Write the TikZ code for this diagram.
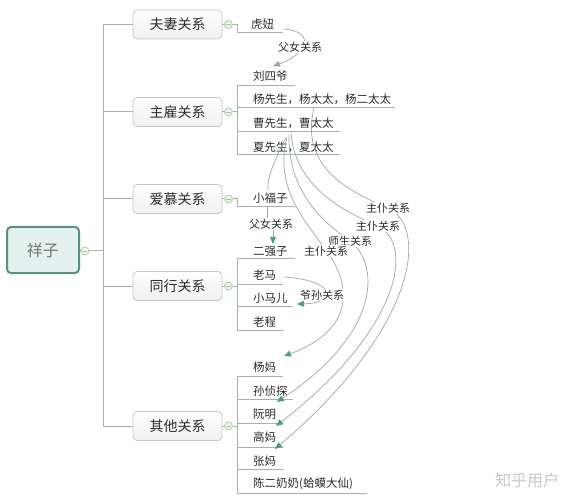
\documentclass[tikz,border=0pt]{standalone}
\usepackage{fontspec}
\setmainfont{Noto Sans CJK SC}
\usetikzlibrary{arrows.meta}
\definecolor{treec}{HTML}{A3B3AD}
\definecolor{boxc}{HTML}{C3C8C6}
\definecolor{rootf}{HTML}{E3F2EE}
\definecolor{rootd}{HTML}{5D8F80}
\definecolor{foldc}{HTML}{A5C9A0}
\definecolor{foldf}{HTML}{EEF6EC}
\definecolor{relc}{HTML}{9CA8A4}
\definecolor{arrowc}{HTML}{4F9C86}
\definecolor{txt}{HTML}{2B2B2B}
\tikzset{
  branch/.style={draw=boxc, top color=white, bottom color=black!6, rounded corners=4pt, minimum width=89pt, minimum height=29pt, inner sep=0pt, font=\fontsize{14}{16}\selectfont, text=txt, line width=0.8pt},
  rootbox/.style={draw=rootd, fill=rootf, rounded corners=4pt, minimum width=72pt, minimum height=46pt, inner sep=0pt, line width=2pt, font=\fontsize{16}{18}\selectfont, text=black!55},
  fold/.style={circle, draw=foldc, fill=foldf, minimum size=8pt, inner sep=0pt, line width=0.7pt,
    path picture={\draw[foldc, line width=0.6pt] ([xshift=-2.3pt]path picture bounding box.center) -- ([xshift=2.3pt]path picture bounding box.center);}},
  leaf/.style={anchor=west, inner sep=0pt, font=\fontsize{11.5}{13}\selectfont, text=txt},
  rlabel/.style={fill=white, inner sep=1pt, font=\fontsize{11}{13}\selectfont, text=txt},
  tree/.style={draw=treec, line width=1pt},
  rel/.style={draw=relc, line width=0.7pt},
  tealtip/.style={-{Triangle[length=7pt,width=6pt,color=arrowc]}},
  graytip/.style={-{Triangle[length=7pt,width=6pt,color=relc]}}
}
\begin{document}
\begin{tikzpicture}[x=1pt,y=-1pt]
\useasboundingbox[fill=white] (0,0) rectangle (579,500);

% root and branches
\node[rootbox] (root) at (43,250) {祥子};
\node[fold] (c0) at (85,251) {};
\coordinate (trunk) at (103,0);
\node[branch] (b1) at (177.5,24.5) {夫妻关系};
\node[branch] (b2) at (177.5,112) {主雇关系};
\node[branch] (b3) at (177.5,199) {爱慕关系};
\node[branch] (b4) at (177.5,286) {同行关系};
\node[branch] (b5) at (177.5,426) {其他关系};
\foreach \i in {1,...,5}{
  \node[fold] (c\i) at ([xshift=6pt]b\i.east) {};
}

\draw[tree] (root.east) -- (c0.west);
\draw[tree] (c0.east) -- (c0.east -| trunk);
\draw[tree] (b1.west -| trunk) -- (b5.west -| trunk);
\foreach \i in {1,...,5}{
  \draw[tree] (b\i.west -| trunk) -- (b\i.west);
  \draw[tree] (b\i.east) -- (c\i.west);
}

% leaves
\node[leaf] (hn) at (251,24) {虎妞};
\node[leaf] (lsy) at (253,76) {刘四爷};
\node[leaf] (yang) at (253,99.5) {杨先生，杨太太，杨二太太};
\node[leaf] (cao) at (253,123) {曹先生，曹太太};
\node[leaf] (xia) at (253,147) {夏先生，夏太太};
\node[leaf] (xfz) at (253,198) {小福子};
\node[leaf] (eqz) at (253,251) {二强子};
\node[leaf] (lm) at (253,275) {老马};
\node[leaf] (xme) at (253,298) {小马儿};
\node[leaf] (lc) at (253,322) {老程};
\node[leaf] (ym) at (253,367) {杨妈};
\node[leaf] (szt) at (253,391) {孙侦探};
\node[leaf] (rm) at (253,414) {阮明};
\node[leaf] (gm) at (253,437.5) {高妈};
\node[leaf] (zm) at (253,461) {张妈};
\node[leaf] (cen) at (253,484) {陈二奶奶(蛤蟆大仙)};

% sub-brackets
\coordinate (br) at (237,0);
\draw[tree] (c1.east) -- (c1.east -| br) -- (237,33) -- (283,33);
\draw[tree] (c2.east) -- (c2.east -| br);
\draw[tree] (237,86) -- (237,155);
\draw[tree] (237,86) -- (295,86);
\draw[tree] (237,108) -- (395,108);
\draw[tree] (237,132) -- (340,132);
\draw[tree] (237,155) -- (340,155);
\draw[tree] (c3.east) -- (c3.east -| br) -- (237,207) -- (295,207);
\draw[tree] (c4.east) -- (c4.east -| br);
\draw[tree] (237,259) -- (237,330);
\draw[tree] (237,259) -- (295,259);
\draw[tree] (237,284) -- (283,284);
\draw[tree] (237,306) -- (293,306);
\draw[tree] (237,330) -- (283,330);
\draw[tree] (c5.east) -- (c5.east -| br);
\draw[tree] (237,376) -- (237,493);
\draw[tree] (237,376) -- (283,376);
\draw[tree] (237,399) -- (293,399);
\draw[tree] (237,423) -- (283,423);
\draw[tree] (237,447) -- (283,447);
\draw[tree] (237,469) -- (283,469);
\draw[tree] (237,493) -- (367,493);

% relation curves
\coordinate (sA) at (314,108);
\coordinate (sB) at (291,133);
\coordinate (sC) at (289,135);
\coordinate (sD) at (287,137);
\coordinate (sE) at (286,138);
\coordinate (tA) at (275,449);
\coordinate (tB) at (276,426);
\coordinate (tC) at (277,402);
\coordinate (tD) at (284,356);
\coordinate (tE) at (268,190);

\draw[rel,tealtip] (sA) .. controls (300,165) and (345,190) .. (388,208) .. controls (430,228) and (415,330) .. (tA);
\draw[rel,tealtip] (sB) .. controls (295,185) and (340,210) .. (378,226) .. controls (415,245) and (400,330) .. (tB);
\draw[rel,tealtip] (sC) .. controls (288,190) and (320,220) .. (350,241) .. controls (378,262) and (385,330) .. (tC);
\draw[rel,tealtip] (sD) .. controls (275,185) and (300,215) .. (326,250) .. controls (352,285) and (355,330) .. (tD);
\draw[rel] (sE) .. controls (272,165) and (267,180) .. (tE);

\node[rlabel] (l1) at (388,208) {主仆关系};
\node[rlabel] (l2) at (378,226) {主仆关系};
\node[rlabel] (l3) at (350,241) {师生关系};
\node[rlabel] (l4) at (326,251) {主仆关系};

% father-daughter (top)
\draw[rel,graytip] (284,29) .. controls (318,32) and (305,55) .. (273,66);
\node[rlabel] (fn1) at (300,47) {父女关系};

% father-daughter (middle)
\node[rlabel, fill=none] (fn2) at (271,224) {父女关系};
\draw[rel] (267,207) -- (fn2.north -| 267,0);
\draw[rel,tealtip] (fn2.south -| 273,0) -- (273,244);

% grandfather-grandson
\draw[rel,tealtip] (284,277) .. controls (335,280) and (340,303) .. (297,304);
\node[rlabel] (ys) at (322,295) {爷孙关系};

% watermark
\node[font=\fontsize{16}{18}\selectfont, text=black!22, inner sep=0pt] (wm) at (527,480) {知乎用户};
\end{tikzpicture}
\end{document}
